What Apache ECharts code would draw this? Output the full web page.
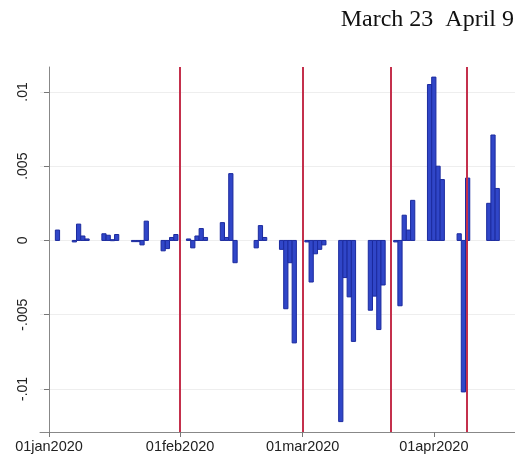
<!DOCTYPE html>
<html>
<head>
<meta charset="utf-8">
<script src="https://cdn.jsdelivr.net/npm/echarts@6/dist/echarts.min.js"></script>
<style>html,body{margin:0;padding:0;background:#fff}#c{width:515px;height:456px}</style>
</head>
<body>
<div id="c"></div>
<script>
// Daily values (dates as categories)
const dates = ['2020-01-03','2020-01-07','2020-01-08','2020-01-09','2020-01-10',
  '2020-01-14','2020-01-15','2020-01-16','2020-01-17',
  '2020-01-21','2020-01-22','2020-01-23','2020-01-24',
  '2020-01-28','2020-01-29','2020-01-30','2020-01-31',
  '2020-02-03','2020-02-04','2020-02-05','2020-02-06','2020-02-07',
  '2020-02-11','2020-02-12','2020-02-13','2020-02-14',
  '2020-02-19','2020-02-20','2020-02-21',
  '2020-02-25','2020-02-26','2020-02-27','2020-02-28',
  '2020-03-02','2020-03-03','2020-03-04','2020-03-05','2020-03-06',
  '2020-03-10','2020-03-11','2020-03-12','2020-03-13',
  '2020-03-17','2020-03-18','2020-03-19','2020-03-20',
  '2020-03-23','2020-03-24','2020-03-25','2020-03-26','2020-03-27',
  '2020-03-31','2020-04-01','2020-04-02','2020-04-03',
  '2020-04-07','2020-04-08','2020-04-09',
  '2020-04-14','2020-04-15','2020-04-16'];
const values = [0.0007,-0.0001,0.0011,0.0003,0.0001,
  0.00045,0.00035,0.00005,0.0004,
  -0.00008,-0.00008,-0.0003,0.0013,
  -0.0007,-0.00055,0.0002,0.0004,
  0.0001,-0.0005,0.0003,0.0008,0.0002,
  0.0012,0.0002,0.0045,-0.0015,
  -0.0005,0.001,0.0002,
  -0.0006,-0.0046,-0.0015,-0.0069,
  -0.0001,-0.0028,-0.0009,-0.0006,-0.0003,
  -0.0122,-0.0025,-0.0038,-0.0068,
  -0.0047,-0.00375,-0.006,-0.003,
  -0.0001,-0.0044,0.0017,0.0007,0.0027,
  0.0105,0.011,0.005,0.0041,
  0.00045,-0.0102,0.0042,
  0.0025,0.0071,0.0035];
// Event lines (days since 01jan2020)
const eventDays = [31, 60, 80.9, 98.8];
// Axis ticks
const xTickDays = [0, 31, 60, 91];
const xTickLabels = ['01jan2020', '01feb2020', '01mar2020', '01apr2020'];
const yTickValues = [-0.01, -0.005, 0, 0.005, 0.01];
const yTickLabels = ['-.01', '-.005', '0', '.005', '.01'];
const headerText = 'March 23  April 9';

const origin = Date.UTC(2020, 0, 1);
function dayIndex(s) {
  const p = s.split('-').map(Number);
  return Math.round((Date.UTC(p[0], p[1] - 1, p[2]) - origin) / 86400000);
}
const barData = dates.map((d, i) => [dayIndex(d), values[i]]);

const chart = echarts.init(document.getElementById('c'), null, {renderer: 'canvas'});
chart.setOption({
  animation: false,
  backgroundColor: '#ffffff',
  title: {
    text: headerText,
    right: 1, top: 8, padding: 0,
    textStyle: {fontFamily: 'Liberation Serif', fontSize: 24, fontWeight: 'normal', color: '#111'}
  },
  grid: {left: 40, right: 0, top: 67, bottom: 24, containLabel: false, outerBoundsMode: 'none'},
  xAxis: {
    type: 'value', min: -2.13, max: 110.2,
    axisLine: {show: true, onZero: false, lineStyle: {color: '#888', width: 1}},
    axisTick: {show: true, length: 5, customValues: xTickDays, lineStyle: {color: '#777'}},
    axisLabel: {
      customValues: xTickDays,
      formatter: v => xTickLabels[xTickDays.indexOf(v)] || '',
      fontFamily: 'Liberation Sans', fontSize: 14.5, color: '#222', margin: 7
    },
    splitLine: {show: false}
  },
  yAxis: {
    type: 'value', min: -0.0129, max: 0.01168,
    axisLine: {show: true, lineStyle: {color: '#888', width: 1}},
    axisTick: {show: true, length: 5, customValues: yTickValues, lineStyle: {color: '#777'}},
    axisLabel: {
      customValues: yTickValues,
      rotate: 90,
      formatter: v => {
        const i = yTickValues.findIndex(t => Math.abs(t - v) < 1e-9);
        return i >= 0 ? yTickLabels[i] : '';
      },
      fontFamily: 'Liberation Sans', fontSize: 14, color: '#222', margin: 10
    },
    splitLine: {show: true, lineStyle: {color: '#eeeeee', width: 1}}
  },
  series: [
    {
      type: 'custom',
      data: barData,
      renderItem: function (params, api) {
        const d = api.value(0), v = api.value(1);
        const p0 = api.coord([d - 0.5, v]);
        const p1 = api.coord([d + 0.5, 0]);
        return {
          type: 'rect',
          shape: {x: p0[0], y: Math.min(p0[1], p1[1]), width: p1[0] - p0[0], height: Math.max(1, Math.abs(p1[1] - p0[1]))},
          style: {fill: '#3046c8', stroke: '#1b2a9e', lineWidth: 1}
        };
      },
      z: 3
    },
    {
      type: 'line',
      data: [],
      markLine: {
        silent: true,
        symbol: ['none', 'none'],
        label: {show: false},
        lineStyle: {color: '#c4304c', width: 2, type: 'solid'},
        data: eventDays.map(d => ({xAxis: d}))
      },
      z: 4
    }
  ]
});
</script>
</body>
</html>
